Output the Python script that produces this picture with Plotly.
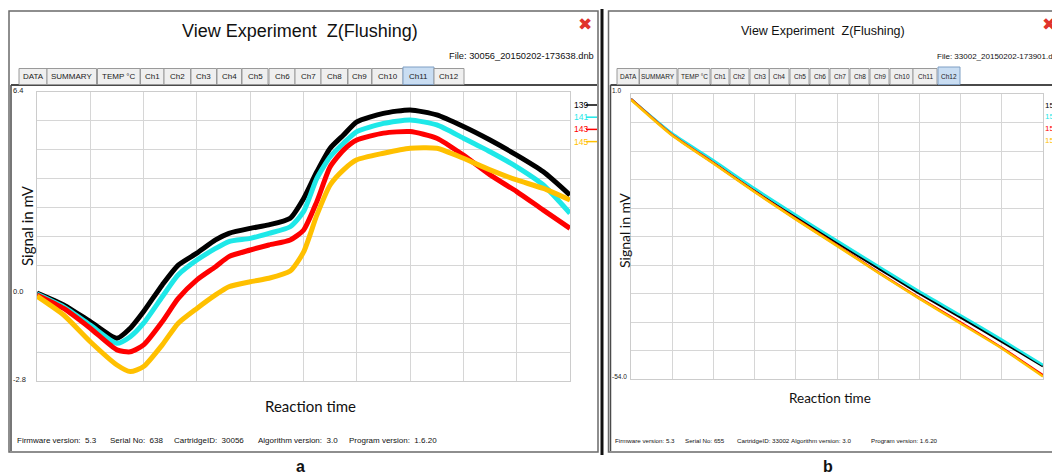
import plotly.graph_objects as go

W, H = 1052, 475

# ---------------- data ----------------
# Panel a: Ch11, reaction time in grid units (0..100), signal in mV
time_a = [0, 5, 10, 15, 17.5, 20, 23.5, 26.5, 30, 33.5, 36, 40, 43.5, 47.5,
          50, 52.5, 55, 57.5, 60, 65, 70, 75, 80, 85, 90, 95, 100]
ch139 = [0.0, -0.38, -0.91, -1.44, -1.12, -0.59, 0.26, 0.89, 1.27, 1.69, 1.90, 2.06, 2.17, 2.38,
         3.00, 3.86, 4.61, 5.03, 5.45, 5.72, 5.83, 5.67, 5.30, 4.87, 4.39, 3.86, 3.12]
ch141 = [-0.03, -0.44, -1.02, -1.60, -1.39, -0.96, -0.12, 0.58, 1.05, 1.42, 1.64, 1.74, 1.90, 2.11,
         2.59, 3.65, 4.34, 4.77, 5.14, 5.40, 5.51, 5.35, 4.93, 4.50, 4.02, 3.44, 2.54]
ch143 = [-0.06, -0.49, -1.12, -1.81, -1.87, -1.65, -0.91, -0.17, 0.42, 0.84, 1.16, 1.37, 1.53, 1.69,
         2.00, 2.91, 4.02, 4.55, 4.87, 5.09, 5.14, 4.93, 4.39, 3.76, 3.23, 2.64, 2.06]
ch145 = [-0.10, -0.70, -1.55, -2.29, -2.50, -2.34, -1.65, -0.96, -0.49, -0.06, 0.20, 0.36, 0.47, 0.70,
         1.30, 2.48, 3.44, 3.92, 4.24, 4.45, 4.61, 4.61, 4.29, 3.92, 3.60, 3.33, 2.96]
names_a = ["139", "141", "143", "145"]

# Panel b: Ch12
time_b = [0, 10, 20, 30, 40, 50, 60, 70, 80, 90, 100]
ch153 = [0.0, -6.8, -12.1, -17.5, -22.7, -27.7, -32.6, -37.5, -42.1, -46.8, -51.5]
ch155 = [0.0, -6.6, -11.8, -17.2, -22.3, -27.3, -32.2, -37.1, -41.7, -46.4, -51.3]
ch157 = [0.0, -6.9, -12.3, -17.8, -23.1, -28.2, -33.4, -38.4, -43.1, -48.0, -53.3]
ch159 = [-0.1, -7.0, -12.4, -17.9, -23.2, -28.3, -33.5, -38.5, -43.3, -48.1, -53.5]
names_b = ["153", "155", "157", "159"]

range_a = [-2.8, 6.4]
range_b = [-54.0, 1.0]
ticks_a = [6.4, 0.0, -2.8]
ticks_b = [1.0, -54.0]

tabs = ["DATA", "SUMMARY", "TEMP °C", "Ch1", "Ch2", "Ch3", "Ch4", "Ch5", "Ch6",
        "Ch7", "Ch8", "Ch9", "Ch10", "Ch11", "Ch12"]
footer_a = ["Firmware version:  5.3", "Serial No:  638", "CartridgeID:  30056",
            "Algorithm version:  3.0", "Program version:  1.6.20"]
footer_b = ["Firmware version: 5.3", "Serial No: 655", "CartridgeID: 33002",
            "Algorithm version: 3.0", "Program version: 1.6.20"]
file_a = "File: 30056_20150202-173638.dnb"
file_b = "File: 33002_20150202-173901.d"
title = "View Experiment  Z(Flushing)"

colors = ["#000000", "#1ee8e8", "#ff0000", "#ffc000"]

# ---------------- helpers ----------------
def X(p):
    return p / W


def Y(p):
    return 1 - p / H


FONT = "Liberation Sans, Arial, sans-serif"
HUM = "Lato, Open Sans, sans-serif"

fig = go.Figure()

for vals, nm, c in zip([ch139, ch141, ch143, ch145], names_a, colors):
    fig.add_trace(go.Scatter(x=time_a, y=vals, name=nm, mode="lines",
                             line=dict(color=c, width=5, shape="spline", smoothing=0.6),
                             xaxis="x", yaxis="y", showlegend=False))
for vals, nm, c in zip([ch153, ch155, ch157, ch159], names_b, colors):
    fig.add_trace(go.Scatter(x=time_b, y=vals, name=nm, mode="lines",
                             line=dict(color=c, width=2.5, shape="spline", smoothing=0.6),
                             xaxis="x2", yaxis="y2", showlegend=False))

grid = "#d6d6d6"
ax_common = dict(showticklabels=False, ticks="", showgrid=True, gridcolor=grid, gridwidth=1,
                 zeroline=False, showline=True, mirror=True, linecolor="#cccccc", linewidth=1,
                 fixedrange=True)

shapes = []
ann = []

# ---------- window frames ----------
shapes.append(dict(type="rect", xref="paper", yref="paper", x0=X(9), x1=X(598), y0=Y(452), y1=Y(11),
                   line=dict(color="#6a6a6a", width=1.5), layer="below"))
shapes.append(dict(type="rect", xref="paper", yref="paper", x0=X(608.5), x1=X(1060), y0=Y(452), y1=Y(11),
                   line=dict(color="#6a6a6a", width=1.5), layer="below"))
# separator bar
shapes.append(dict(type="line", xref="paper", yref="paper", x0=X(602), x1=X(602), y0=Y(455), y1=Y(9),
                   line=dict(color="#111111", width=3)))
# content borders under tabs
for x0, x1 in [(11, 597), (610.5, 1060)]:
    shapes.append(dict(type="line", xref="paper", yref="paper", x0=X(x0), x1=X(x1), y0=Y(85), y1=Y(85),
                       line=dict(color="#4a4a4a", width=2)))
    shapes.append(dict(type="line", xref="paper", yref="paper", x0=X(x0), x1=X(x0), y0=Y(451), y1=Y(85),
                       line=dict(color="#4a4a4a", width=1.5)))

# ---------- tabs ----------
tabs_a_x = [(19, 47), (47, 96.5), (97.5, 140), (140.5, 164), (164, 190.5), (191, 216.5), (217, 241.5),
            (242, 268), (269, 295), (295, 321), (321, 347.5), (348, 371.5), (372, 403), (403, 434),
            (434, 464)]
tabs_b_x = [(617, 639), (639.5, 677), (678, 710), (711, 729), (730, 749), (750, 769), (769.5, 789),
            (790, 809), (810, 829), (830, 849), (850, 869), (870, 889), (890, 913), (913, 937),
            (938, 960)]
for tx, sel, fs in [(tabs_a_x, 13, 8), (tabs_b_x, 14, 6.5)]:
    for i, (lab, (x0, x1)) in enumerate(zip(tabs, tx)):
        s = (i == sel)
        shapes.append(dict(type="rect", xref="paper", yref="paper", x0=X(x0), x1=X(x1),
                           y0=Y(84.5), y1=Y(67 if s else 68.5),
                           fillcolor="#c9ddf2" if s else "#efefef",
                           line=dict(color="#7f9fc4" if s else "#9a9a9a", width=1)))
        ann.append(dict(xref="paper", yref="paper", x=X((x0 + x1) / 2), y=Y(76.5), text=lab,
                        showarrow=False, xanchor="center", yanchor="middle",
                        font=dict(family=FONT, size=fs, color="#1a1a1a")))

# ---------- titles / file names / close buttons ----------
ann.append(dict(xref="paper", yref="paper", x=X(300), y=Y(31), text=title, showarrow=False,
                xanchor="center", yanchor="middle", font=dict(family=FONT, size=18, color="#111")))
ann.append(dict(xref="paper", yref="paper", x=X(823), y=Y(31), text=title, showarrow=False,
                xanchor="center", yanchor="middle", font=dict(family=FONT, size=12.5, color="#111")))
ann.append(dict(xref="paper", yref="paper", x=X(596), y=Y(56), text=file_a, showarrow=False,
                xanchor="right", yanchor="middle", font=dict(family=FONT, size=9.3, color="#111")))
ann.append(dict(xref="paper", yref="paper", x=X(935), y=Y(56), text=file_b, showarrow=False,
                xanchor="left", yanchor="middle", font=dict(family=FONT, size=8, color="#111")))
ann.append(dict(xref="paper", yref="paper", x=X(585), y=Y(24), text="✖", showarrow=False,
                xanchor="center", yanchor="middle", font=dict(family="DejaVu Sans", size=17, color="#e0332b")))
ann.append(dict(xref="paper", yref="paper", x=X(1049), y=Y(24), text="✖", showarrow=False,
                xanchor="center", yanchor="middle", font=dict(family="DejaVu Sans", size=17, color="#e0332b")))

# ---------- y tick labels ----------
for v in ticks_a:
    ann.append(dict(xref="paper", yref="y", x=X(11), y=v, text=f"{v:.1f}", showarrow=False,
                    xanchor="left", yanchor="middle", yshift=2, font=dict(family=FONT, size=7.5, color="#222")))
for v in ticks_b:
    ann.append(dict(xref="paper", yref="y2", x=X(610), y=v, text=f"{v:.1f}", showarrow=False,
                    xanchor="left", yanchor="middle", yshift=3, font=dict(family=FONT, size=6.5, color="#222")))

# ---------- axis titles ----------
ann.append(dict(xref="paper", yref="paper", x=X(27), y=Y(226), text="Signal in mV", textangle=-90,
                showarrow=False, xanchor="center", yanchor="middle", font=dict(family=HUM, size=15, color="#111")))
ann.append(dict(xref="paper", yref="paper", x=X(310), y=Y(406), text="Reaction time",
                showarrow=False, xanchor="center", yanchor="middle", font=dict(family=HUM, size=15, color="#111")))
ann.append(dict(xref="paper", yref="paper", x=X(624), y=Y(231), text="Signal in mV", textangle=-90,
                showarrow=False, xanchor="center", yanchor="middle", font=dict(family=HUM, size=14, color="#111")))
ann.append(dict(xref="paper", yref="paper", x=X(830), y=Y(398), text="Reaction time",
                showarrow=False, xanchor="center", yanchor="middle", font=dict(family=HUM, size=13.5, color="#111")))

# ---------- legends ----------
for i, (nm, c) in enumerate(zip(names_a, colors)):
    yy = 105 + i * 12.2
    ann.append(dict(xref="paper", yref="paper", x=X(571.5), y=Y(yy), text=nm, showarrow=False,
                    xanchor="left", yanchor="middle", font=dict(family=FONT, size=8.5, color=c)))
    shapes.append(dict(type="line", xref="paper", yref="paper", x0=X(586), x1=X(597), y0=Y(yy), y1=Y(yy),
                       line=dict(color=c, width=1.5)))
for i, (nm, c) in enumerate(zip(names_b, colors)):
    yy = 105 + i * 11.8
    ann.append(dict(xref="paper", yref="paper", x=X(1042.5), y=Y(yy), text=nm, showarrow=False,
                    xanchor="left", yanchor="middle", font=dict(family=FONT, size=8, color=c)))

# ---------- footers ----------
for txt, x0 in zip(footer_a, [14.5, 108, 172, 256, 347]):
    ann.append(dict(xref="paper", yref="paper", x=X(x0), y=Y(440), text=txt, showarrow=False,
                    xanchor="left", yanchor="middle", font=dict(family=FONT, size=8, color="#111")))
for txt, x0 in zip(footer_b, [613, 683, 735, 789, 869]):
    ann.append(dict(xref="paper", yref="paper", x=X(x0), y=Y(440), text=txt, showarrow=False,
                    xanchor="left", yanchor="middle", font=dict(family=FONT, size=6.2, color="#111")))

# ---------- panel letters ----------
ann.append(dict(xref="paper", yref="paper", x=X(300), y=Y(466), text="<b>a</b>", showarrow=False,
                xanchor="center", yanchor="middle", font=dict(family=FONT, size=16, color="#111")))
ann.append(dict(xref="paper", yref="paper", x=X(828), y=Y(466), text="<b>b</b>", showarrow=False,
                xanchor="center", yanchor="middle", font=dict(family=FONT, size=16, color="#111")))

fig.update_layout(
    width=W, height=H, margin=dict(l=0, r=0, t=0, b=0),
    paper_bgcolor="white", plot_bgcolor="white", showlegend=False,
    xaxis=dict(domain=[X(37), X(570)], range=[0, 100], tick0=0, dtick=10, anchor="y", **ax_common),
    yaxis=dict(domain=[Y(381), Y(92)], range=range_a, tick0=range_a[0],
               dtick=(range_a[1] - range_a[0]) / 10, anchor="x", **ax_common),
    xaxis2=dict(domain=[X(631), X(1043)], range=[0, 100], tick0=0, dtick=10, anchor="y2", **ax_common),
    yaxis2=dict(domain=[Y(379), Y(94)], range=range_b, tick0=range_b[0],
                dtick=(range_b[1] - range_b[0]) / 10, anchor="x2", **ax_common),
    shapes=shapes, annotations=ann,
)

fig.write_html("out.html", config={"displayModeBar": False},
               post_script="document.body.style.margin='0';document.body.style.overflow='hidden';")
